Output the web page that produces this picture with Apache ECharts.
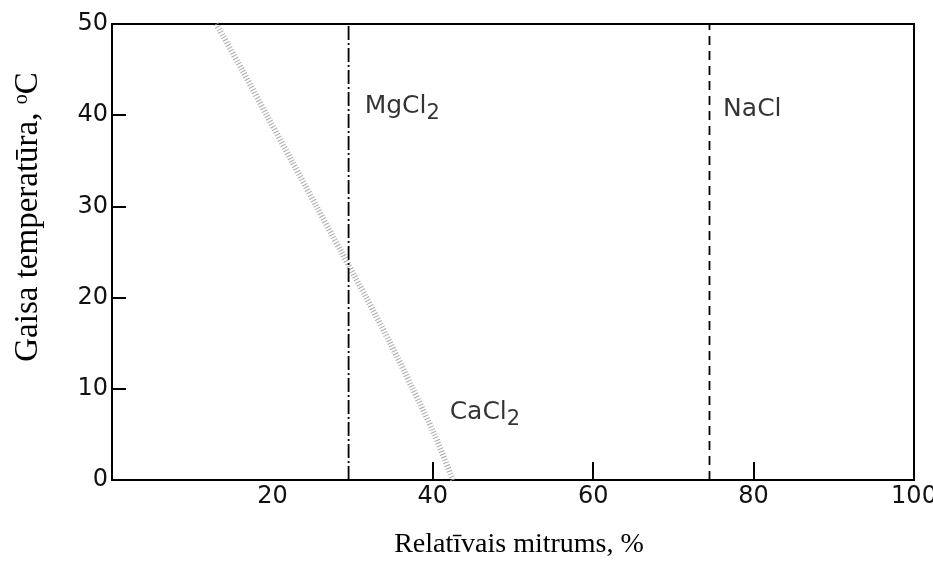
<!DOCTYPE html>
<html>
<head>
<meta charset="utf-8">
<script src="https://cdn.jsdelivr.net/npm/echarts@6/dist/echarts.min.js"></script>
<style>
  html, body { margin: 0; padding: 0; background: #fff; }
  #chart { width: 933px; height: 571px; }
</style>
</head>
<body>
<div id="chart"></div>
<script>
// CaCl2 curve (relative humidity % vs air temperature °C)
const cacl2Rh = [13.0, 16.2, 19.3, 22.4, 25.5, 28.6, 31.7, 34.7, 37.5, 40.2, 42.5];
const cacl2Temp = [50, 45, 40, 35, 30, 25, 20, 15, 10, 5, 0];
// vertical lines
const mgcl2Rh = 29.5;
const naclRh = 74.5;
const tempRange = [0, 50];
// ticks and labels
const xTickValues = [40, 60, 80];
const xLabelValues = [20, 40, 60, 80, 100];
const yTickValues = [10, 20, 30, 40];
const yLabelValues = [0, 10, 20, 30, 40, 50];
// salt names and where they sit [RH, temp]
const saltNames = ['MgCl', 'NaCl', 'CaCl'];
const saltSubs = ['2', '', '2'];
const saltAt = [[31.5, 40.7], [76.2, 40.6], [42.1, 7.1]];

const chart = echarts.init(document.getElementById('chart'));

const sans = 'DejaVu Sans';
const serif = 'Liberation Serif';

const labelData = saltNames.map((n, i) => ({
  value: saltAt[i],
  label: {
    formatter: saltSubs[i] ? '{m|' + n + '}{s|' + saltSubs[i] + '}' : '{m|' + n + '}'
  }
}));

chart.setOption({
  animation: false,
  backgroundColor: '#fff',
  grid: {
    left: 112, right: 19, top: 24, bottom: 91,
    show: true, borderColor: '#000', borderWidth: 2,
    outerBoundsMode: 'none'
  },
  xAxis: {
    type: 'value', min: 0, max: 100, interval: 20,
    axisLine: { lineStyle: { color: '#000', width: 2 } },
    axisTick: { show: true, inside: true, length: 18, customValues: xTickValues, lineStyle: { color: '#000', width: 2 } },
    axisLabel: { customValues: xLabelValues, fontFamily: sans, fontSize: 24, color: '#111', margin: 5 },
    splitLine: { show: false }
  },
  yAxis: {
    type: 'value', min: 0, max: 50, interval: 10,
    axisLine: { lineStyle: { color: '#000', width: 2 } },
    axisTick: { show: true, inside: true, length: 14, customValues: yTickValues, lineStyle: { color: '#000', width: 2 } },
    axisLabel: { customValues: yLabelValues, fontFamily: sans, fontSize: 24, color: '#111', margin: 4 },
    splitLine: { show: false }
  },
  series: [
    {
      type: 'line', name: 'CaCl2', smooth: 0.3, symbol: 'none', silent: true,
      data: cacl2Rh.map((x, i) => [x, cacl2Temp[i]]),
      lineStyle: { color: '#a8a8a8', width: 6, type: [1, 2] }
    },
    {
      type: 'line', name: 'MgCl2', symbol: 'none', silent: true,
      data: tempRange.map(t => [mgcl2Rh, t]),
      lineStyle: { color: '#000', width: 1.8, type: [14, 3, 2, 3] }
    },
    {
      type: 'line', name: 'NaCl', symbol: 'none', silent: true,
      data: tempRange.map(t => [naclRh, t]),
      lineStyle: { color: '#000', width: 1.8, type: [9, 6] }
    },
    {
      type: 'scatter', symbolSize: 0, silent: true,
      data: labelData,
      label: {
        show: true, position: 'right', distance: 0, color: '#000',
        rich: {
          m: { fontFamily: sans, fontSize: 25, color: '#000', verticalAlign: 'top' },
          s: { fontFamily: sans, fontSize: 21, color: '#000', verticalAlign: 'bottom', padding: [9, 0, 0, 0] }
        }
      }
    }
  ],
  graphic: [
    {
      type: 'text', x: 519, y: 545,
      style: {
        text: 'Relatīvais mitrums, %', fontFamily: serif, fontSize: 28, fill: '#000',
        align: 'center', verticalAlign: 'middle'
      }
    },
    {
      type: 'text', x: 28, y: 217, rotation: Math.PI / 2,
      style: {
        text: '{t|Gaisa temperatūra, }{o|o}{t|C}',
        align: 'center', verticalAlign: 'middle',
        rich: {
          t: { fontFamily: serif, fontSize: 33, fill: '#000', verticalAlign: 'bottom' },
          o: { fontFamily: serif, fontSize: 20, fill: '#000', verticalAlign: 'top' }
        }
      }
    }
  ]
});
</script>
</body>
</html>
